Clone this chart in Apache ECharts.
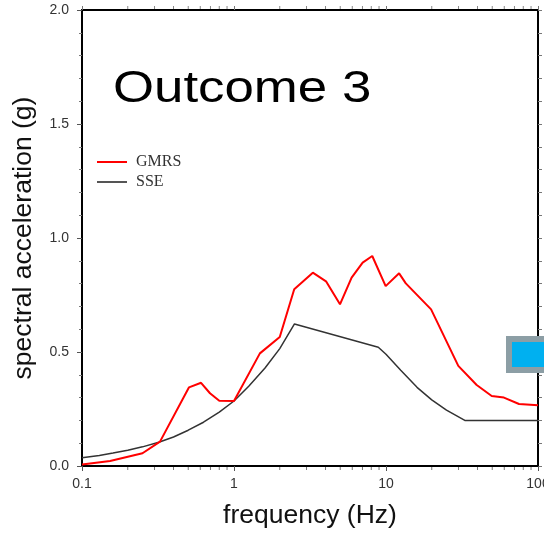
<!DOCTYPE html>
<html>
<head>
<meta charset="utf-8">
<script src="https://cdn.jsdelivr.net/npm/echarts@6/dist/echarts.min.js"></script>
<style>
html,body{margin:0;padding:0;background:#fff;}
#chart{width:544px;height:533px;}
</style>
</head>
<body>
<div id="chart"></div>
<script>
// ---- data ----
var gmrsFreq = [0.1, 0.153, 0.25, 0.326, 0.506, 0.607, 0.695, 0.80, 1.0, 1.48, 2.0, 2.49, 3.3, 4.03, 4.98, 5.94, 7.02, 8.12, 9.95, 12.2, 13.5, 19.8, 29.9, 39.5, 49.6, 59.7, 75, 100];
var gmrsAcc  = [0.007, 0.022, 0.056, 0.107, 0.345, 0.365, 0.319, 0.286, 0.285, 0.494, 0.566, 0.775, 0.848, 0.810, 0.709, 0.826, 0.892, 0.921, 0.789, 0.845, 0.801, 0.687, 0.439, 0.355, 0.307, 0.300, 0.272, 0.266];

var sseFreq = [0.1, 0.13, 0.16, 0.2, 0.25, 0.32, 0.4, 0.5, 0.63, 0.8, 1.0, 1.25, 1.6, 2.0, 2.5, 8.9, 10, 12.5, 16, 20, 25, 33, 100];
var sseAcc  = [0.036, 0.046, 0.057, 0.069, 0.084, 0.104, 0.127, 0.157, 0.192, 0.236, 0.285, 0.35, 0.43, 0.515, 0.623, 0.521, 0.49, 0.42, 0.345, 0.29, 0.245, 0.2, 0.2];

var minorFreq = [0.2, 0.3, 0.4, 0.5, 0.6, 0.7, 0.8, 0.9, 2, 3, 4, 5, 6, 7, 8, 9, 20, 30, 40, 50, 60, 70, 80, 90];

var xTickLabels = {0.1: '0.1', 1: '1', 10: '10', 100: '100'};
var seriesNames = ['GMRS', 'SSE'];
var titleText = 'Outcome 3';
var xName = 'frequency (Hz)';
var yName = 'spectral acceleration (g)';

function zip(a, b) { return a.map(function (v, i) { return [v, b[i]]; }); }

var chart = echarts.init(document.getElementById('chart'), null, {renderer: 'canvas'});

var axisLineStyle = {color: '#000', width: 2};
var font = 'Liberation Sans, Arial, sans-serif';

var option = {
  animation: false,
  backgroundColor: '#fff',
  grid: {left: 82, right: 6, top: 10, bottom: 67, containLabel: false, outerBoundsMode: 'none'},
  legend: {
    left: 97, top: 154, orient: 'vertical', padding: 0,
    icon: 'rect', itemWidth: 30, itemHeight: 2, itemGap: 4,
    textStyle: {fontFamily: 'Liberation Serif, Times New Roman, serif', fontSize: 16, color: '#333', padding: [0, 0, 0, 4]},
    data: [{name: seriesNames[0], itemStyle: {color: '#ff0000'}}, {name: seriesNames[1], itemStyle: {color: '#555'}}]
  },
  xAxis: [{
    type: 'log', logBase: 10, min: 0.1, max: 100, position: 'bottom',
    axisLine: {show: true, onZero: false, lineStyle: axisLineStyle},
    axisTick: {show: true, length: 5, inside: false, lineStyle: {color: '#555', width: 1}},
    axisLabel: {show: true, margin: 11, fontFamily: font, fontSize: 14, color: '#333', hideOverlap: false,
      formatter: function (v) { return xTickLabels[v] !== undefined ? xTickLabels[v] : String(v); }},
    splitLine: {show: false},
    name: xName, nameLocation: 'middle', nameGap: 36,
    nameTextStyle: {fontFamily: font, fontSize: 26.5, color: '#111'}
  }, {
    type: 'log', logBase: 10, min: 0.1, max: 100, position: 'top',
    axisLine: {show: true, onZero: false, lineStyle: axisLineStyle},
    axisTick: {show: true, length: 4, inside: false, lineStyle: {color: '#777', width: 1}},
    axisLabel: {show: false}, splitLine: {show: false}
  }],
  yAxis: [{
    type: 'value', min: 0, max: 2, interval: 0.5, position: 'left',
    axisLine: {show: true, onZero: false, lineStyle: axisLineStyle},
    axisTick: {show: true, length: 5, inside: false, lineStyle: {color: '#555', width: 1}},
    minorTick: {show: true, splitNumber: 5, length: 3, lineStyle: {color: '#777', width: 1}},
    axisLabel: {show: true, margin: 13, fontFamily: font, fontSize: 14, color: '#333',
      formatter: function (v) { return v.toFixed(1); }},
    splitLine: {show: false},
    name: yName, nameLocation: 'middle', nameGap: 45, nameRotate: 90,
    nameTextStyle: {fontFamily: font, fontSize: 26.5, color: '#111'}
  }, {
    type: 'value', min: 0, max: 2, interval: 0.1, position: 'right',
    axisLine: {show: true, onZero: false, lineStyle: axisLineStyle},
    axisTick: {show: true, length: 4, inside: false, lineStyle: {color: '#777', width: 1}},
    axisLabel: {show: false}, splitLine: {show: false}
  }],
  graphic: [{
    type: 'text', x: 113, y: 90, scaleX: 1.2, scaleY: 1,
    style: {text: titleText, x: 0, y: 0, fontFamily: font, fontSize: 44, fill: '#000', textVerticalAlign: 'middle'}
  }, {
    type: 'rect', z: 100,
    shape: {x: 509, y: 339, width: 60, height: 31},
    style: {fill: '#00b0f0', stroke: '#8c9ea5', lineWidth: 6}
  }],
  series: [{
    name: seriesNames[0], type: 'line', xAxisIndex: 0, yAxisIndex: 0,
    data: zip(gmrsFreq, gmrsAcc), showSymbol: false, symbol: 'none',
    lineStyle: {color: '#ff0000', width: 2}, itemStyle: {color: '#ff0000'}, z: 3
  }, {
    name: seriesNames[1], type: 'line', xAxisIndex: 0, yAxisIndex: 0,
    data: zip(sseFreq, sseAcc), showSymbol: false, symbol: 'none', smooth: false,
    lineStyle: {color: '#333', width: 1.5}, itemStyle: {color: '#555'}, z: 2
  }, {
    name: 'minorTicks', type: 'custom', xAxisIndex: 0, yAxisIndex: 0, clip: false, silent: true,
    data: minorFreq.map(function (f) { return [f]; }),
    renderItem: function (params, api) {
      var b = api.coord([api.value(0), 0]);
      var t = api.coord([api.value(0), 2]);
      return {type: 'group', children: [
        {type: 'line', shape: {x1: b[0], y1: b[1] + 1, x2: b[0], y2: b[1] + 4}, style: {stroke: '#777', lineWidth: 1}},
        {type: 'line', shape: {x1: t[0], y1: t[1] - 1, x2: t[0], y2: t[1] - 4}, style: {stroke: '#888', lineWidth: 1}}
      ]};
    }
  }]
};
chart.setOption(option);
</script>
</body>
</html>
